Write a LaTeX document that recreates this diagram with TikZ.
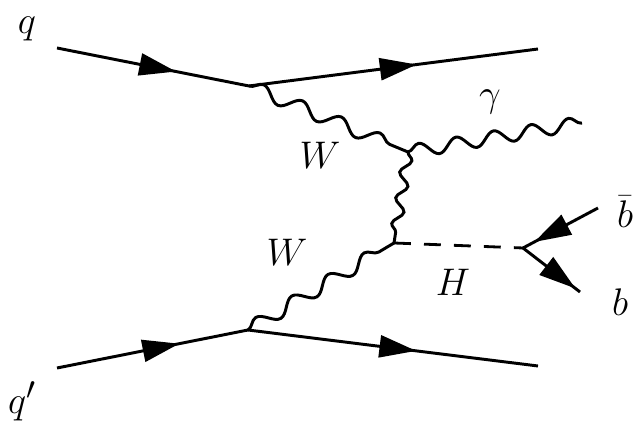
\documentclass[tikz,border=0pt]{standalone}
\usetikzlibrary{arrows.meta,decorations.pathmorphing,decorations.markings}

\begin{document}
\begin{tikzpicture}[
    every node/.style={font=\Huge, inner sep=1pt, scale=1.1, transform shape},
    fermion/.style={line width=2.1pt, postaction={decorate},
        decoration={markings, mark=at position #1 with
            {\arrow{Triangle[length=0.92cm, width=0.55cm]}}}},
    fermion/.default=0.6,
    boson/.style={line width=2.1pt, decorate,
        decoration={snake, amplitude=0.17cm, segment length=#1}},
    boson/.default=1.05cm,
    higgs/.style={line width=2pt, dash pattern=on 0.42cm off 0.33cm}
]

\useasboundingbox (0,0) rectangle (16,10.575);

% external legs
\coordinate (qin)   at (1.425, 9.375);
\coordinate (qout)  at (13.45, 9.35);
\coordinate (qpin)  at (1.425, 1.375);
\coordinate (qpout) at (13.45, 1.425);
\coordinate (gend)  at (14.55, 7.5);
\coordinate (bbin)  at (14.95, 5.375);
\coordinate (bout)  at (14.5, 3.275);

% vertices
\coordinate (v1) at (6.225, 8.425);
\coordinate (v2) at (10.2, 6.775);
\coordinate (v3) at (9.85, 4.5);
\coordinate (v4) at (6.2, 2.325);
\coordinate (vh) at (13.075, 4.375);

% quark lines
\draw[fermion=0.62] (qin) -- (v1);
\draw[fermion=0.58] (v1) -- (qout);
\draw[fermion=0.64] (qpin) -- (v4);
\draw[fermion=0.58] (v4) -- (qpout);

% W and photon
\draw[boson] (v1) -- (v2);
\draw[boson=0.95cm] (v2) -- (gend);
\draw[boson=0.65cm, decoration={amplitude=0.13cm}] (v2) -- (v3);
\draw[boson] (v4) -- (v3);

% Higgs and b quarks
\draw[higgs] (v3) -- (vh);
\draw[fermion=0.85] (bbin) -- (vh);
\draw[fermion=0.92] (vh) -- (bout);

% labels
\node (lq)  at (0.675, 9.85)   {$q$};
\node (lqp) at (0.55, 0.55)    {$q'$};
\node (lw1) at (8.0, 6.7)      {$W$};
\node (lw2) at (7.175, 4.275)  {$W$};
\node (lg)  at (12.25, 8.025)  {$\gamma$};
\node (lh)  at (11.325, 3.525) {$H$};
\node (lbb) at (15.625, 5.275) {$\bar{b}$};
\node (lb)  at (15.5, 3.025)   {$b$};

\end{tikzpicture}
\end{document}
